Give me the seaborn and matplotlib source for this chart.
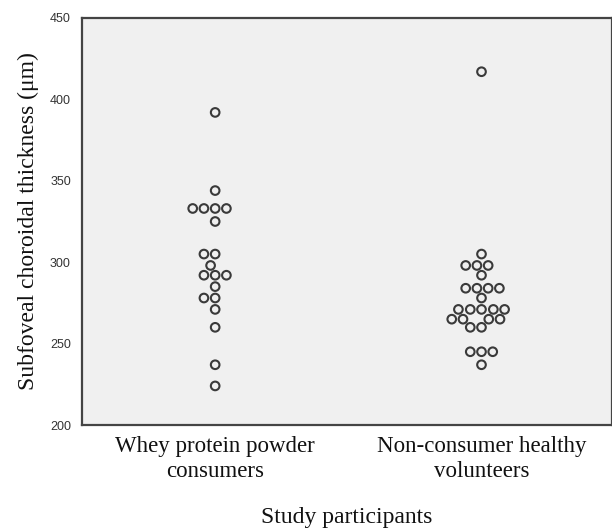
import numpy as np
import pandas as pd
import matplotlib
matplotlib.use("Agg")
import matplotlib.pyplot as plt
import seaborn as sns

# ---- data ----
categories = ["Whey protein powder\nconsumers", "Non-consumer healthy\nvolunteers"]
whey_values = [392, 344, 333, 333, 333, 333, 325, 305, 305, 298, 292, 292, 292,
               285, 278, 278, 271, 260, 237, 224]
nonconsumer_values = [417, 305, 298, 298, 298, 292, 284, 284, 284, 284, 278,
                      271, 271, 271, 271, 271, 265, 265, 265, 265, 260, 260,
                      245, 245, 245, 237]
y_ticks = [200, 250, 300, 350, 400, 450]

df = pd.DataFrame({
    "group": [categories[0]] * len(whey_values) + [categories[1]] * len(nonconsumer_values),
    "thickness": whey_values + nonconsumer_values,
})

sns.set_style("white")
fig = plt.figure(figsize=(6.12, 5.30), dpi=100)
ax = fig.add_axes([82 / 612, 105 / 530, 1 - 82 / 612, (425 - 18) / 530])
ax.set_facecolor("#f0f0f0")

sns.swarmplot(data=df, x="group", y="thickness", order=categories, ax=ax,
              size=6.2, facecolor="none", edgecolor="#3a3a3a", linewidth=1.5)

ax.set_ylim(200, 450)
ax.set_xlim(-0.5, 1.49)
ax.set_yticks(y_ticks)
ax.set_yticklabels([str(t) for t in y_ticks], fontfamily="Liberation Sans",
                   fontsize=9, color="#333333")
ax.set_xticks([0, 1])
ax.set_xticklabels(categories, fontfamily="Liberation Serif", fontsize=16.5,
                   color="#111111", linespacing=1.25)
ax.tick_params(axis="y", direction="out", length=6, width=1.2, color="#444444", pad=2)
ax.tick_params(axis="x", direction="out", length=6, width=1.2, color="#444444", pad=2)

for s in ax.spines.values():
    s.set_color("#444444")
    s.set_linewidth(1.6)

ax.set_ylabel("Subfoveal choroidal thickness (μm)", fontfamily="Liberation Serif",
              fontsize=17, color="#111111", labelpad=8)
ax.set_xlabel("Study participants", fontfamily="Liberation Serif", fontsize=17,
              color="#111111", labelpad=18)

fig.savefig("out.png", dpi=100)
